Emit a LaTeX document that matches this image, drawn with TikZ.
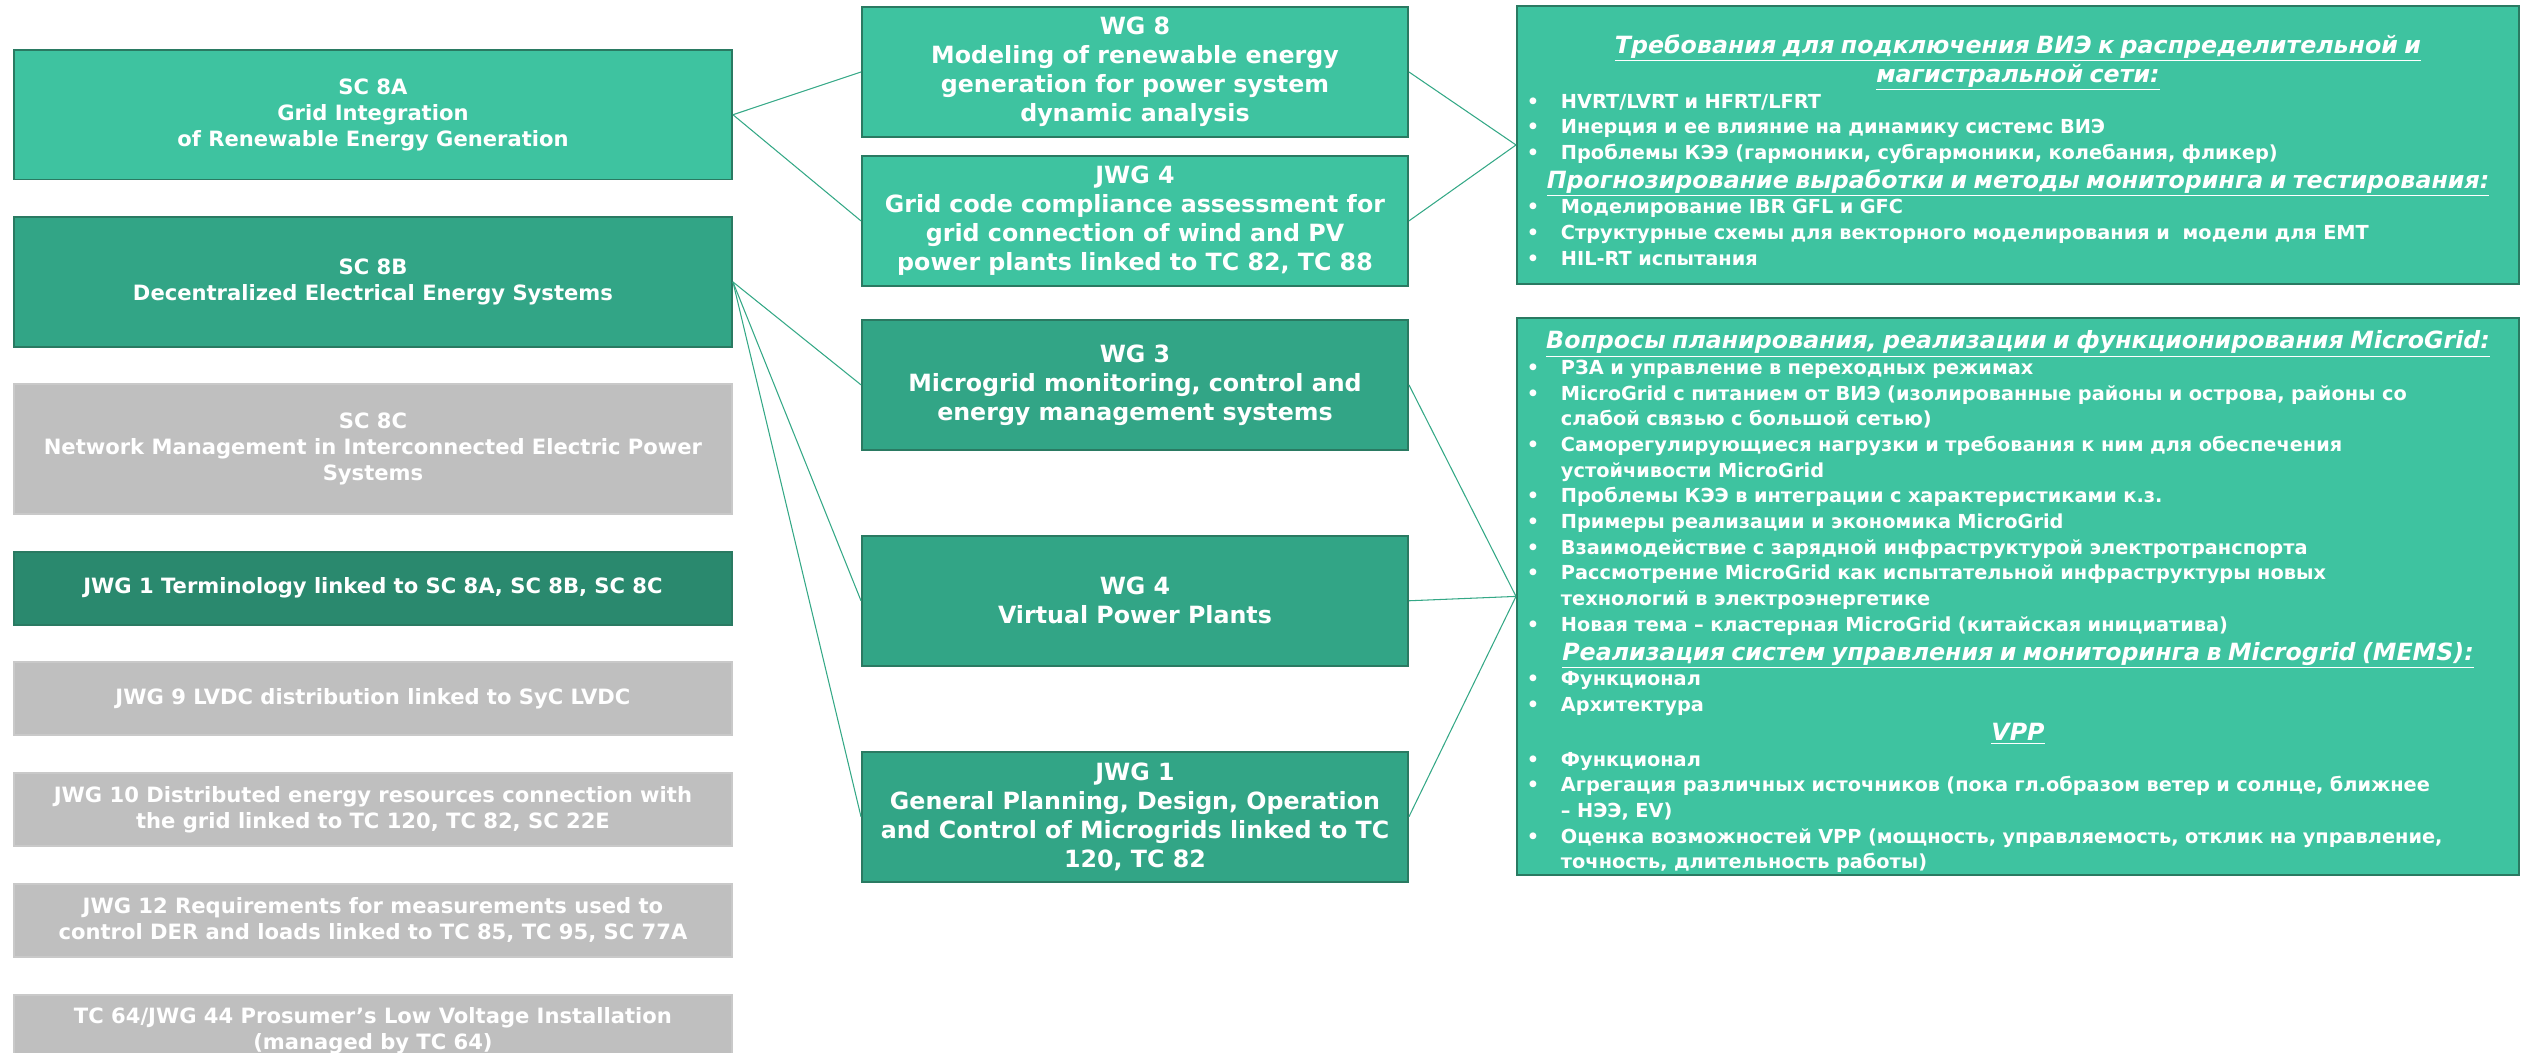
\documentclass[tikz,border=0pt]{standalone}
\usepackage{fontspec}
\setmainfont{DejaVu Sans}
\usetikzlibrary{positioning}
\definecolor{sgLight}{HTML}{3EC3A0}
\definecolor{sgMid}{HTML}{32A586}
\definecolor{sgDark}{HTML}{2A896E}
\definecolor{sgEdge}{HTML}{2A7A62}
\definecolor{sgGrey}{HTML}{BFBFBF}
\definecolor{sgLine}{HTML}{34A886}

% bullet lines and underlined headings for the topic boxes
\newcommand{\tpoint}[1]{\par\noindent\makebox[0.78cm][l]{\hspace{0.1cm}•}\mbox{#1}}
\newcommand{\tpointtwo}[2]{\tpoint{#1}\par\noindent\hspace{0.78cm}\mbox{#2}}
\newcommand{\thead}[1]{\par{\fontsize{13.5}{16.5}\selectfont\noindent\makebox[\hsize]{\itshape\underline{#1}}\par}}

\begin{document}
\begin{tikzpicture}[
  node distance=0.716cm,
  scbox/.style={
    rectangle, draw=sgEdge, line width=1.1pt, text=white,
    minimum width=14.36cm, minimum height=2.59cm, align=center,
    font=\fontsize{12}{14.8}\selectfont\bfseries, inner sep=0pt,
  },
  jwgbox/.style={scbox, minimum height=1.46cm},
  greybox/.style={draw=sgGrey!85!white, fill=sgGrey},
  wgbox/.style={
    rectangle, draw=sgEdge, line width=1.1pt, text=white,
    minimum width=10.92cm, minimum height=2.6cm, align=center,
    font=\fontsize{13.5}{16.5}\selectfont\bfseries, inner sep=0pt,
  },
  topicbox/.style={
    rectangle, draw=sgEdge, line width=1.1pt, fill=sgLight, text=white,
    text width=19.84cm, inner xsep=0.1cm, inner ysep=0pt,
    font=\fontsize{11}{14.6}\selectfont\bfseries,
  },
  link/.style={sgLine, line width=0.6pt},
]
\useasboundingbox (0,0) rectangle (50.84,-21.04);

% Subcommittees and joint groups
\node[scbox, fill=sgLight, anchor=north west] (sc8a) at (0.26,-0.98)
  {SC 8A\\Grid Integration\\of Renewable Energy Generation};
\node[scbox, fill=sgMid, below=of sc8a] (sc8b)
  {SC 8B\\Decentralized Electrical Energy Systems};
\node[scbox, greybox, below=of sc8b] (sc8c)
  {SC 8C\\Network Management in Interconnected Electric Power\\Systems};
\node[jwgbox, fill=sgDark, below=of sc8c] (jwg1t)
  {JWG 1 Terminology linked to SC 8A, SC 8B, SC 8C};
\node[jwgbox, greybox, below=of jwg1t] (jwg9)
  {JWG 9 LVDC distribution linked to SyC LVDC};
\node[jwgbox, greybox, below=of jwg9] (jwg10)
  {JWG 10 Distributed energy resources connection with\\the grid linked to TC 120, TC 82, SC 22E};
\node[jwgbox, greybox, below=of jwg10] (jwg12)
  {JWG 12 Requirements for measurements used to\\control DER and loads linked to TC 85, TC 95, SC 77A};
\node[jwgbox, greybox, below=of jwg12] (tc64)
  {TC 64/JWG 44 Prosumer’s Low Voltage Installation\\(managed by TC 64)};

% Working groups
\node[wgbox, fill=sgLight, anchor=north west] (wg8) at (17.22,-0.12)
  {WG 8\\Modeling of renewable energy\\generation for power system\\dynamic analysis};
\node[wgbox, fill=sgLight, below=0.34cm of wg8] (jwg4)
  {JWG 4\\Grid code compliance assessment for\\grid connection of wind and PV\\power plants linked to TC 82, TC 88};
\node[wgbox, fill=sgMid, below=0.64cm of jwg4] (wg3)
  {WG 3\\Microgrid monitoring, control and\\energy management systems};
\node[wgbox, fill=sgMid, below=1.68cm of wg3] (wg4)
  {WG 4\\Virtual Power Plants};
\node[wgbox, fill=sgMid, below=1.68cm of wg4] (jwg1)
  {JWG 1\\General Planning, Design, Operation\\and Control of Microgrids linked to TC\\120, TC 82};

% Topics
\node[topicbox, minimum height=5.56cm, anchor=north west] (renew) at (30.32,-0.10) {%
  \thead{Требования для подключения ВИЭ к распределительной и}
  \thead{магистральной сети:}
  \tpoint{HVRT/LVRT и HFRT/LFRT}
  \tpoint{Инерция и ее влияние на динамику системс ВИЭ}
  \tpoint{Проблемы КЭЭ (гармоники, субгармоники, колебания, фликер)}
  \thead{Прогнозирование выработки и методы мониторинга и тестирования:}
  \tpoint{Моделирование IBR GFL и GFC}
  \tpoint{Структурные схемы для векторного моделирования и \ модели для EMT}
  \tpoint{HIL-RT испытания}};
\node[topicbox, minimum height=11.14cm, below=0.64cm of renew] (micro) {%
  \thead{Вопросы планирования, реализации и функционирования MicroGrid:}
  \tpoint{РЗА и управление в переходных режимах}
  \tpointtwo{MicroGrid с питанием от ВИЭ (изолированные районы и острова, районы со}{слабой связью с большой сетью)}
  \tpointtwo{Саморегулирующиеся нагрузки и требования к ним для обеспечения}{устойчивости MicroGrid}
  \tpoint{Проблемы КЭЭ в интеграции с характеристиками к.з.}
  \tpoint{Примеры реализации и экономика MicroGrid}
  \tpoint{Взаимодействие с зарядной инфраструктурой электротранспорта}
  \tpointtwo{Рассмотрение MicroGrid как испытательной инфраструктуры новых}{технологий в электроэнергетике}
  \tpoint{Новая тема – кластерная MicroGrid (китайская инициатива)}
  \thead{Реализация систем управления и мониторинга в Microgrid (MEMS):}
  \tpoint{Функционал}
  \tpoint{Архитектура}
  \thead{VPP}
  \tpoint{Функционал}
  \tpointtwo{Агрегация различных источников (пока гл.образом ветер и солнце, ближнее}{– НЭЭ, EV)}
  \tpointtwo{Оценка возможностей VPP (мощность, управляемость, отклик на управление,}{точность, длительность работы)}};

% Links
\draw[link] (sc8a.east) -- (wg8.west);
\draw[link] (sc8a.east) -- (jwg4.west);
\draw[link] (sc8b.east) -- (wg3.west);
\draw[link] (sc8b.east) -- (wg4.west);
\draw[link] (sc8b.east) -- (jwg1.west);
\draw[link] (wg8.east) -- (renew.west);
\draw[link] (jwg4.east) -- (renew.west);
\draw[link] (wg3.east) -- (micro.west);
\draw[link] (wg4.east) -- (micro.west);
\draw[link] (jwg1.east) -- (micro.west);

\end{tikzpicture}
\end{document}
